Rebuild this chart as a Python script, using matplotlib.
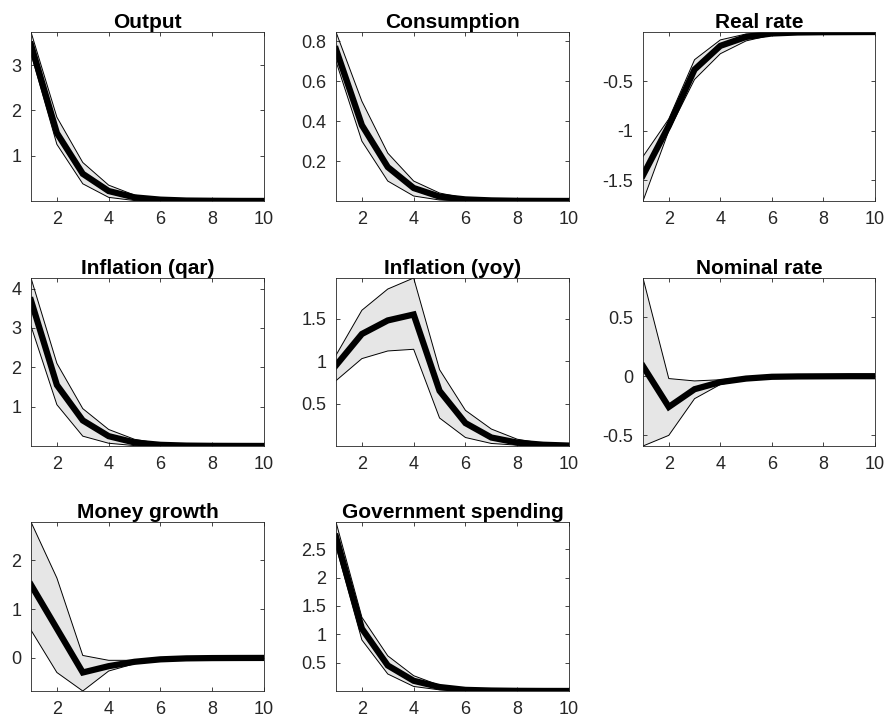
import numpy as np
import matplotlib
matplotlib.use('Agg')
import matplotlib.pyplot as plt
from matplotlib.ticker import FormatStrFormatter

plt.rcParams['font.family'] = ['Liberation Sans', 'DejaVu Sans']
plt.rcParams['axes.unicode_minus'] = False

# Horizon (quarters)
horizon = np.arange(1, 11)

titles = ['Output', 'Consumption', 'Real rate', 'Inflation (qar)', 'Inflation (yoy)',
          'Nominal rate', 'Money growth', 'Government spending']

# Median responses
output_mid = [3.45, 1.50, 0.60, 0.22, 0.08, 0.03, 0.01, 0.005, 0.002, 0.001]
consumption_mid = [0.76, 0.38, 0.17, 0.065, 0.022, 0.008, 0.003, 0.001, 0.0005, 0.0002]
realrate_mid = [-1.45, -0.95, -0.38, -0.14, -0.05, -0.015, -0.005, -0.002, -0.001, 0.0]
inflq_mid = [3.70, 1.55, 0.65, 0.25, 0.09, 0.03, 0.01, 0.004, 0.002, 0.001]
infly_mid = [0.95, 1.32, 1.48, 1.55, 0.65, 0.27, 0.10, 0.04, 0.015, 0.005]
nominal_mid = [0.085, -0.26, -0.11, -0.05, -0.02, -0.005, -0.002, -0.001, 0.0, 0.0]
money_mid = [1.50, 0.60, -0.30, -0.17, -0.08, -0.03, -0.01, -0.004, -0.002, -0.001]
gov_mid = [2.72, 1.10, 0.45, 0.18, 0.07, 0.02, 0.008, 0.003, 0.001, 0.0005]

# Upper bands
output_hi = [3.73, 1.85, 0.85, 0.35, 0.13, 0.05, 0.02, 0.01, 0.005, 0.002]
consumption_hi = [0.847, 0.50, 0.24, 0.10, 0.04, 0.014, 0.005, 0.002, 0.001, 0.0005]
realrate_hi = [-1.26, -0.88, -0.28, -0.08, -0.02, -0.005, 0.0, 0.0, 0.0, 0.0]
inflq_hi = [4.27, 2.10, 0.95, 0.42, 0.17, 0.06, 0.02, 0.008, 0.003, 0.001]
infly_hi = [1.07, 1.60, 1.85, 1.98, 0.90, 0.42, 0.20, 0.08, 0.03, 0.01]
nominal_hi = [0.83, -0.02, -0.04, -0.03, -0.01, 0.0, 0.0, 0.0, 0.0, 0.0]
money_hi = [2.79, 1.64, 0.05, -0.05, -0.05, -0.01, 0.0, 0.0, 0.0, 0.0]
gov_hi = [2.98, 1.30, 0.62, 0.27, 0.10, 0.04, 0.015, 0.006, 0.002, 0.001]

# Lower bands
output_lo = [3.25, 1.25, 0.38, 0.08, 0.01, 0.0, 0.0, 0.0, 0.0, 0.0]
consumption_lo = [0.70, 0.30, 0.10, 0.025, 0.005, 0.0, 0.0, 0.0, 0.0, 0.0]
realrate_lo = [-1.71, -1.00, -0.48, -0.22, -0.09, -0.03, -0.01, -0.004, -0.002, -0.001]
inflq_lo = [3.05, 1.05, 0.25, 0.07, 0.01, 0.0, 0.0, 0.0, 0.0, 0.0]
infly_lo = [0.77, 1.03, 1.12, 1.14, 0.33, 0.10, 0.03, 0.01, 0.0, 0.0]
nominal_lo = [-0.59, -0.50, -0.19, -0.07, -0.03, -0.01, -0.004, -0.002, -0.001, 0.0]
money_lo = [0.57, -0.30, -0.68, -0.27, -0.12, -0.05, -0.02, -0.008, -0.003, -0.001]
gov_lo = [2.55, 0.90, 0.30, 0.08, 0.02, 0.0, 0.0, 0.0, 0.0, 0.0]

mids = [output_mid, consumption_mid, realrate_mid, inflq_mid, infly_mid, nominal_mid, money_mid, gov_mid]
his = [output_hi, consumption_hi, realrate_hi, inflq_hi, infly_hi, nominal_hi, money_hi, gov_hi]
los = [output_lo, consumption_lo, realrate_lo, inflq_lo, infly_lo, nominal_lo, money_lo, gov_lo]

yticks = [[1, 2, 3], [0.2, 0.4, 0.6, 0.8], [-1.5, -1, -0.5], [1, 2, 3, 4],
          [0.5, 1, 1.5], [-0.5, 0, 0.5], [0, 1, 2], [0.5, 1, 1.5, 2, 2.5]]

W, H = 888, 722
fig = plt.figure(figsize=(W / 100, H / 100), dpi=100)

# axes pixel boxes (left, right) per column and (top, bottom) per row
cols = [(31, 264), (336, 569), (643, 875)]
rows = [(32, 201), (278, 446), (522, 691)]

for i in range(8):
    l, r = cols[i % 3]
    t, b = rows[i // 3]
    ax = fig.add_axes([l / W, 1 - b / H, (r - l) / W, (b - t) / H])
    hi = np.array(his[i])
    lo = np.array(los[i])
    ax.fill_between(horizon, lo, hi, facecolor='#e6e6e6', edgecolor='none')
    ax.plot(horizon, hi, color='black', lw=0.7)
    ax.plot(horizon, lo, color='black', lw=0.7)
    ax.plot(horizon, mids[i], color='black', lw=4.5, solid_joinstyle='miter')
    ax.set_xlim(1, 10)
    ax.set_ylim(lo.min(), hi.max())
    ax.set_xticks([2, 4, 6, 8, 10])
    ax.set_yticks(yticks[i])
    ax.yaxis.set_major_formatter(FormatStrFormatter('%g'))
    ax.tick_params(direction='in', top=True, right=True, length=3, width=0.6,
                   labelsize=13, colors='#262626')
    ax.tick_params(axis='x', pad=7.5)
    ax.tick_params(axis='y', pad=7)
    for sp in ax.spines.values():
        sp.set_color('#262626')
        sp.set_linewidth(0.6)
    ax.set_title(titles[i], fontsize=15, fontweight='bold', pad=3)

fig.savefig('out.png', dpi=100)
